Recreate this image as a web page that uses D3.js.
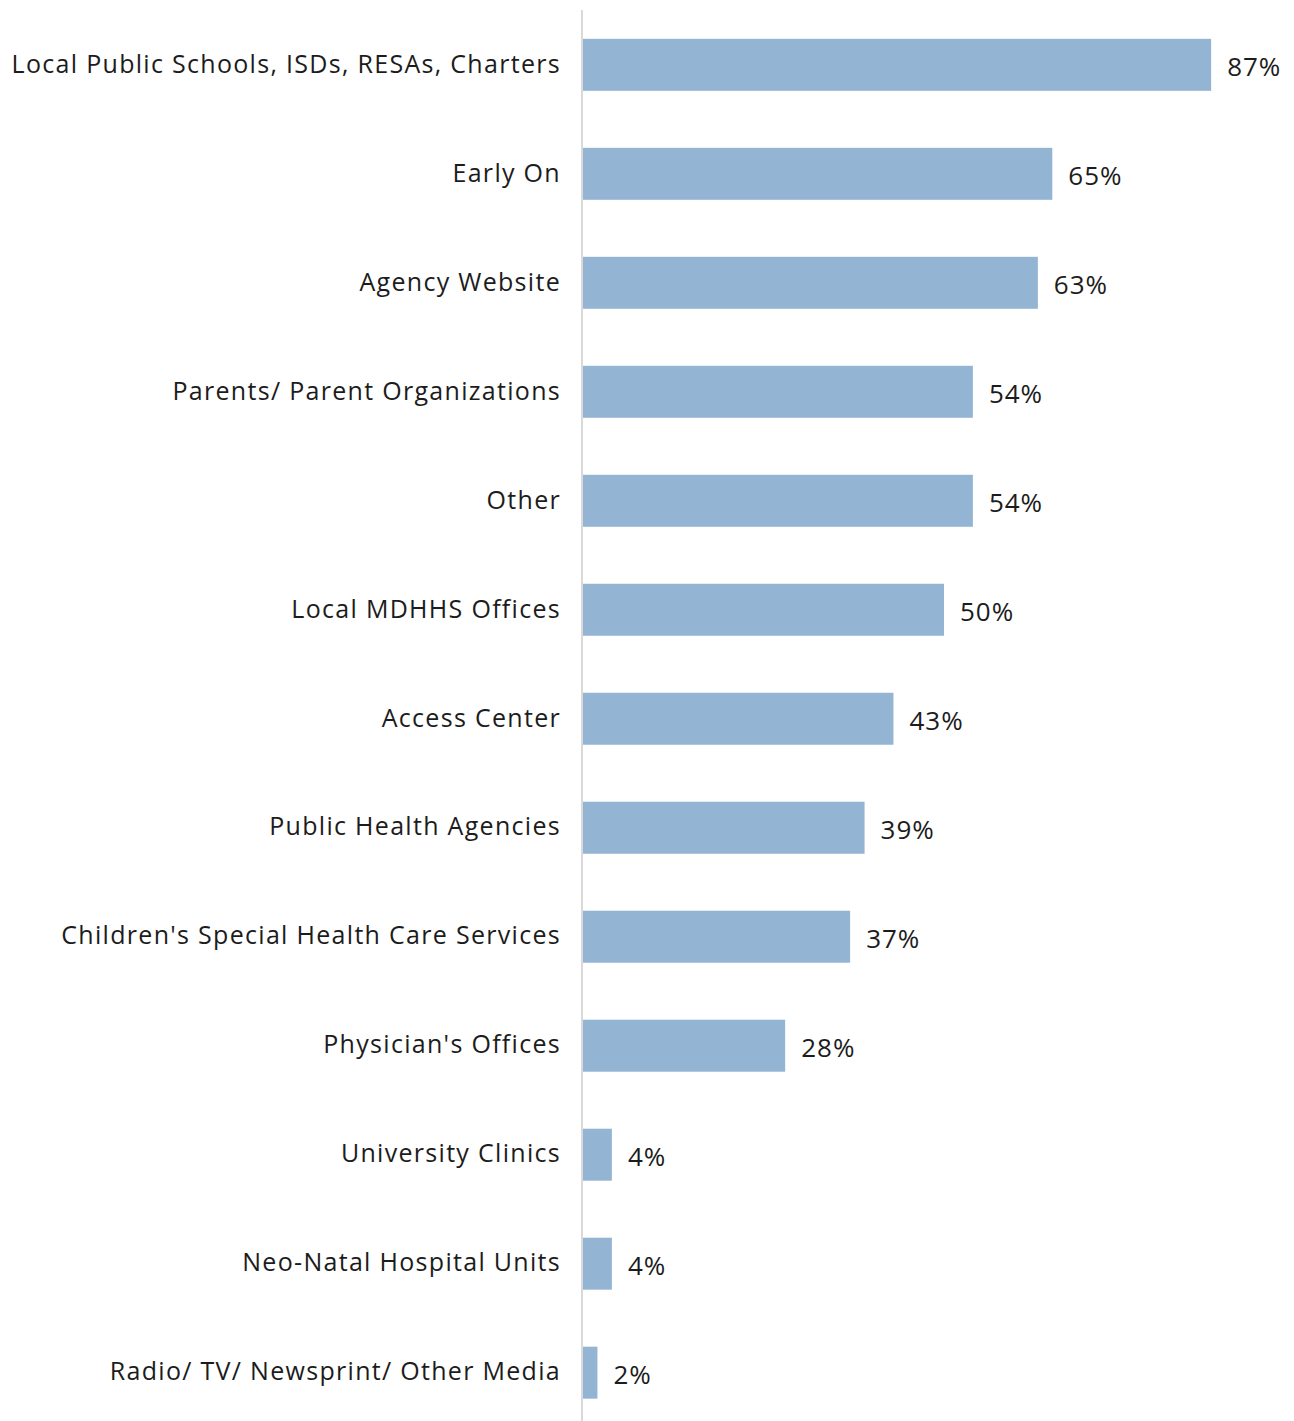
<!DOCTYPE html>
<html>
<head>
<meta charset="utf-8">
<script src="https://cdn.jsdelivr.net/npm/d3@7"></script>
<style>
  html, body { margin: 0; padding: 0; background: #ffffff; }
  svg { display: block; }
  text { font-family: "Open Sans", Lato, sans-serif; fill: #1c1c1c; }
</style>
</head>
<body>
<svg id="chart" width="1294" height="1421"></svg>
<script>
// Where families heard about services (share of respondents)
const categories = [
  "Local Public Schools, ISDs, RESAs, Charters",
  "Early On",
  "Agency Website",
  "Parents/ Parent Organizations",
  "Other",
  "Local MDHHS Offices",
  "Access Center",
  "Public Health Agencies",
  "Children's Special Health Care Services",
  "Physician's Offices",
  "University Clinics",
  "Neo-Natal Hospital Units",
  "Radio/ TV/ Newsprint/ Other Media"
];
const values = [87, 65, 63, 54, 54, 50, 43, 39, 37, 28, 4, 4, 2];
const valueLabels = values.map(v => v + "%");

const svg = d3.select("#chart");
const axisX = 582;

const x = d3.scaleLinear().domain([0, 100]).range([583, 1305]);
const y = d3.scaleBand()
  .domain(categories)
  .range([10.5, 1427])
  .paddingInner(0.523)
  .paddingOuter(0.26);

// bars
svg.append("g").selectAll("rect")
  .data(categories)
  .join("rect")
  .attr("x", x(0))
  .attr("y", d => y(d))
  .attr("width", (d, i) => x(values[i]) - x(0))
  .attr("height", y.bandwidth())
  .attr("fill", "#93b5d3");

// category axis line
svg.append("line")
  .attr("x1", axisX).attr("x2", axisX)
  .attr("y1", 10).attr("y2", 1421)
  .attr("stroke", "#d9d9d9")
  .attr("stroke-width", 2);

// category labels
svg.append("g").selectAll("text")
  .data(categories)
  .join("text")
  .attr("x", 561)
  .attr("y", d => y(d) + y.bandwidth() / 2 - 1)
  .attr("dy", "0.35em")
  .attr("text-anchor", "end")
  .style("font-size", "25px")
  .style("letter-spacing", "1.3px")
  .text(d => d);

// value labels
svg.append("g").selectAll("text")
  .data(categories)
  .join("text")
  .attr("x", (d, i) => x(values[i]) + 16)
  .attr("y", d => y(d) + y.bandwidth() / 2 + 2)
  .attr("dy", "0.35em")
  .style("font-size", "26px")
  .style("letter-spacing", "1px")
  .text((d, i) => valueLabels[i]);
</script>
</body>
</html>
